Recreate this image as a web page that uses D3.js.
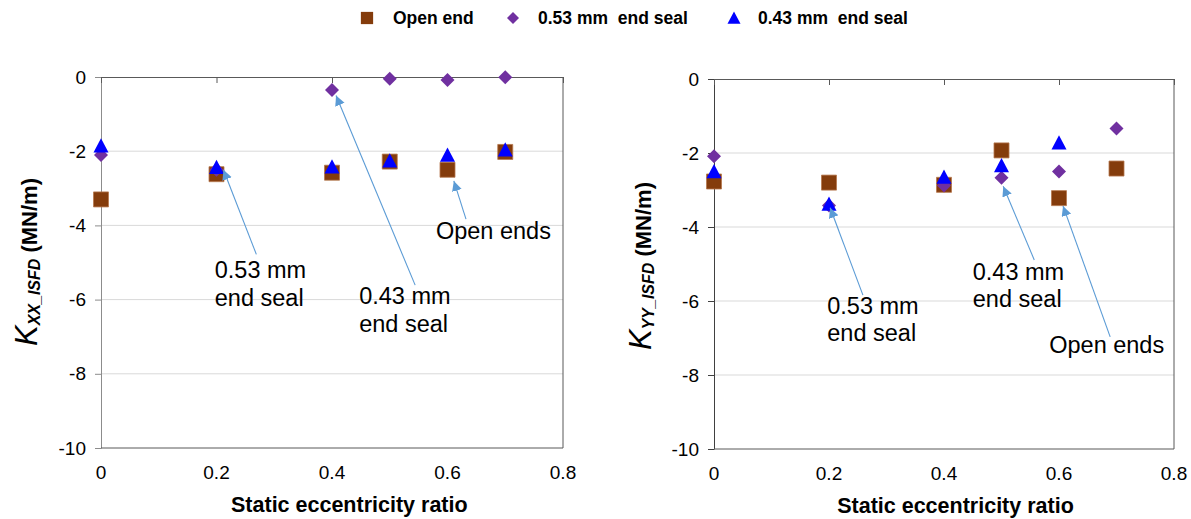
<!DOCTYPE html>
<html><head><meta charset="utf-8">
<script src="https://cdn.jsdelivr.net/npm/d3@7"></script>
<style>
body{margin:0;background:#fff}
svg{display:block}
text{font-family:"Liberation Sans",Arial,sans-serif;fill:#000}
</style>
</head><body>
<svg id="c" width="1191" height="519"></svg>
<script>
// ---------- data ----------
const eccentricity = [0, 0.2, 0.4, 0.5, 0.6, 0.7];
const seriesNames = ["Open end", "0.53 mm  end seal", "0.43 mm  end seal"];
const kxxOpenEnd = [-3.30, -2.62, -2.58, -2.28, -2.50, -2.02];
const kxxSeal053 = [-2.10, -2.50, -0.35, -0.05, -0.08, -0.01];
const kxxSeal043 = [-1.85, -2.43, -2.42, -2.26, -2.10, -1.96];
const kyyOpenEnd = [-2.77, -2.80, -2.86, -1.93, -3.22, -2.42];
const kyySeal053 = [-2.09, -3.42, -2.88, -2.67, -2.50, -1.34];
const kyySeal043 = [-2.50, -3.38, -2.65, -2.34, -1.72, null];
const xTicks = [0, 0.2, 0.4, 0.6, 0.8];
const yTicks = [0, -2, -4, -6, -8, -10];
const xTitle = "Static eccentricity ratio";
// annotations (data coordinates of text anchor, arrow tail, arrow tip)
const kxxNotes = [
  {lines: ["0.53 mm", "end seal"], at: [0.197, -5.42], tail: [0.269, -4.78], tip: [0.212, -2.50]},
  {lines: ["0.43 mm", "end seal"], at: [0.447, -6.12], tail: [0.544, -5.61], tip: [0.407, -0.50]},
  {lines: ["Open ends"], at: [0.580, -4.37], tail: [0.632, -3.83], tip: [0.611, -2.80]}
];
const kyyNotes = [
  {lines: ["0.53 mm", "end seal"], at: [0.197, -6.35], tail: [0.259, -5.84], tip: [0.202, -3.48]},
  {lines: ["0.43 mm", "end seal"], at: [0.450, -5.43], tail: [0.557, -4.89], tip: [0.503, -2.90]},
  {lines: ["Open ends"], at: [0.583, -7.40], tail: [0.689, -6.97], tip: [0.607, -3.43]}
];

// ---------- styles ----------
const colors = ["#843C0C", "#7030A0", "#0000FF"];
const svg = d3.select("#c");

const defs = svg.append("defs");
defs.append("marker").attr("id", "ah").attr("markerUnits", "userSpaceOnUse")
  .attr("markerWidth", 12).attr("markerHeight", 12).attr("refX", 10).attr("refY", 5)
  .attr("orient", "auto")
  .append("path").attr("d", "M0,0 L10,5 L0,10 Z").attr("fill", "#5B9BD5");

// custom symbols
const symSquare = {draw(ctx, s){const h = Math.sqrt(s)/2; ctx.rect(-h, -h, 2*h, 2*h);}};
const symDiamond = {draw(ctx, s){const h = Math.sqrt(s)/2; ctx.moveTo(0,-h); ctx.lineTo(h,0); ctx.lineTo(0,h); ctx.lineTo(-h,0); ctx.closePath();}};
const symTri = {draw(ctx, s){const h = Math.sqrt(s)/2; ctx.moveTo(0,-h); ctx.lineTo(h,h*0.9); ctx.lineTo(-h,h*0.9); ctx.closePath();}};
const symbols = [d3.symbol(symSquare, 225), d3.symbol(symDiamond, 196), d3.symbol(symTri, 225)];

function panel(cfg) {
  const x = d3.scaleLinear().domain([0, 0.8]).range(cfg.xr);
  const y = d3.scaleLinear().domain([-10, 0]).range(cfg.yr);
  const g = svg.append("g");
  const [x0, x1] = cfg.xr, [yb, yt] = cfg.yr;

  // grid
  g.selectAll("line.grid").data(yTicks.filter(v => v !== 0 && v !== -10)).join("line")
    .attr("x1", x0).attr("x2", x1).attr("y1", d => y(d)).attr("y2", d => y(d))
    .attr("stroke", "#D9D9D9").attr("stroke-width", 1);

  // y axis (left)
  const ya = g.append("g").attr("transform", `translate(${x0},0)`)
    .call(d3.axisLeft(y).tickValues(yTicks).tickSize(6).tickSizeOuter(0).tickFormat(d3.format("d")));
  ya.select(".domain").attr("stroke", cfg.yAxisColor);
  ya.selectAll(".tick line").attr("stroke", cfg.yAxisColor);
  ya.selectAll(".tick text").attr("x", -15).attr("font-size", 19).attr("fill", "#000")
    .attr("font-family", "Liberation Sans, Arial, sans-serif").text(d => d3.format("d")(d).replace("−", "-"));

  // top axis line (x axis crossing at 0) with inward ticks
  const xa = g.append("g").attr("transform", `translate(0,${yt})`)
    .call(d3.axisBottom(x).tickValues(xTicks).tickSize(6).tickSizeOuter(0).tickFormat(""));
  xa.select(".domain").attr("stroke", "#595959");
  xa.selectAll(".tick line").attr("stroke", "#595959");

  // x tick labels at bottom
  g.selectAll("text.xt").data(xTicks).join("text")
    .attr("x", d => x(d)).attr("y", yb + 31).attr("text-anchor", "middle")
    .attr("font-size", 19).text(d => d === 0 ? "0" : d3.format(".1f")(d));

  // frame right & bottom
  g.append("line").attr("x1", x1).attr("x2", x1).attr("y1", yt).attr("y2", yb).attr("stroke", "#595959");
  g.append("line").attr("x1", x0).attr("x2", x1).attr("y1", yb).attr("y2", yb).attr("stroke", "#595959");

  // series
  cfg.series.forEach((vals, i) => {
    const pts = eccentricity.map((e, j) => [e, vals[j]]).filter(p => p[1] != null);
    g.append("g").selectAll("path").data(pts).join("path")
      .attr("transform", d => `translate(${x(d[0])},${y(d[1])})`)
      .attr("d", symbols[i]())
      .attr("fill", colors[i])
      .attr("stroke", i === 0 ? "#B5774E" : "none").attr("stroke-width", i === 0 ? 0.8 : 0);
  });

  // annotations
  cfg.notes.forEach(n => {
    g.append("line")
      .attr("x1", x(n.tail[0])).attr("y1", y(n.tail[1]))
      .attr("x2", x(n.tip[0])).attr("y2", y(n.tip[1]))
      .attr("stroke", "#5B9BD5").attr("stroke-width", 1.1).attr("marker-end", "url(#ah)");
    const t = g.append("text").attr("font-size", 23.5);
    n.lines.forEach((l, k) => t.append("tspan").attr("x", x(n.at[0])).attr("y", y(n.at[1]) + k * 27.5).text(l));
  });

  // x title
  g.append("text").attr("x", x(cfg.titleCenter)).attr("y", yb + 64).attr("text-anchor", "middle")
    .attr("font-size", 21.5).attr("font-weight", "bold").text(xTitle);

  // y title
  const yt2 = g.append("text").attr("transform", `translate(${cfg.yTitleX},${cfg.yTitleY}) rotate(-90)`)
    .attr("text-anchor", "middle");
  yt2.append("tspan").attr("font-size", 31).attr("font-style", "italic").text("K");
  yt2.append("tspan").attr("font-size", 16).attr("font-style", "italic").attr("font-weight", "bold")
    .attr("dy", 3).text(cfg.sub);
  yt2.append("tspan").attr("font-size", 22).attr("font-weight", "bold").attr("dy", -3).text("\u00A0(MN/m)");
}

panel({xr: [101, 563], yr: [448, 77], yAxisColor: "#8C8C8C",
  series: [kxxOpenEnd, kxxSeal053, kxxSeal043], notes: kxxNotes,
  titleCenter: 0.43, yTitleX: 37, yTitleY: 262, sub: "XX_ISFD"});
panel({xr: [714, 1174], yr: [449, 79], yAxisColor: "#404040",
  series: [kyyOpenEnd, kyySeal053, kyySeal043], notes: kyyNotes,
  titleCenter: 0.42, yTitleX: 651, yTitleY: 266, sub: "YY_ISFD"});

// legend
const legend = svg.append("g");
const legX = [367, 513, 734];
const legTextX = [393, 538, 758];
seriesNames.forEach((name, i) => {
  legend.append("path").attr("transform", `translate(${legX[i]},18)`)
    .attr("d", d3.symbol(i === 0 ? symSquare : (i === 1 ? symDiamond : symTri), i === 0 ? 150 : (i === 1 ? 144 : 169))())
    .attr("fill", colors[i]);
  legend.append("text").attr("x", legTextX[i]).attr("y", 24).attr("font-size", 17.5)
    .attr("font-weight", "bold").style("white-space", "pre").text(name);
});
</script>
</body></html>
